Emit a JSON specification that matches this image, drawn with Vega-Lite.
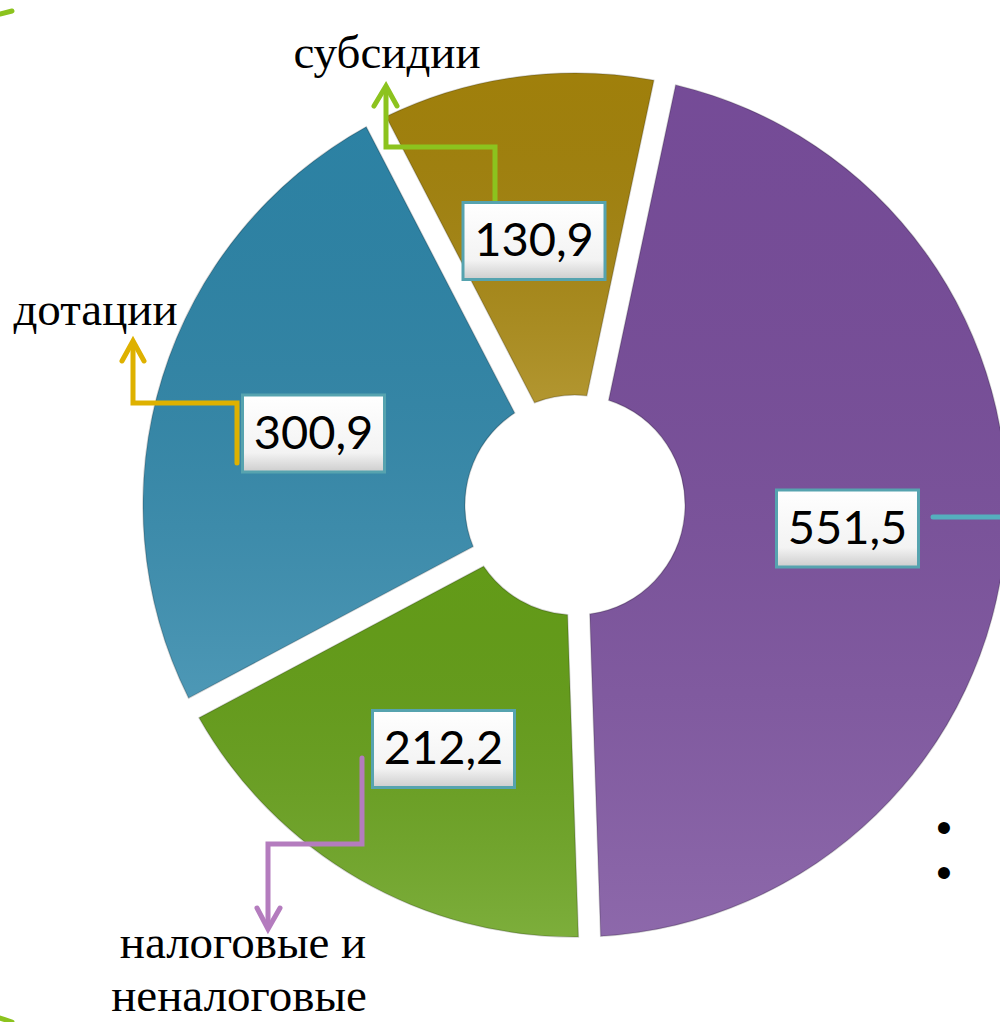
{
  "$schema": "https://vega.github.io/schema/vega-lite/v6.json",
  "width": 1000,
  "height": 1022,
  "autosize": "none",
  "padding": 0,
  "background": "white",
  "config": {"view": {"stroke": null}},
  "datasets": {
    "slices": [
      {"cat": "прочие", "value": 551.5, "k": 1},
      {"cat": "налоговые и неналоговые", "value": 212.2, "k": 2},
      {"cat": "дотации", "value": 300.9, "k": 3},
      {"cat": "субсидии", "value": 130.9, "k": 4}
    ],
    "lines": [
      {"g": "a", "i": 1, "x": -0.80, "y": 3.02, "c": "lime"},
      {"g": "a", "i": 2, "x": -0.80, "y": 3.58, "c": "lime"},
      {"g": "a", "i": 3, "x": -1.89, "y": 3.58, "c": "lime"},
      {"g": "a", "i": 4, "x": -1.89, "y": 4.16, "c": "lime"},
      {"g": "a2", "i": 1, "x": -2.01, "y": 3.99, "c": "lime"},
      {"g": "a2", "i": 2, "x": -1.89, "y": 4.19, "c": "lime"},
      {"g": "a2", "i": 3, "x": -1.78, "y": 3.99, "c": "lime"},
      {"g": "b", "i": 1, "x": -3.38, "y": 0.42, "c": "gold"},
      {"g": "b", "i": 2, "x": -3.38, "y": 1.02, "c": "gold"},
      {"g": "b", "i": 3, "x": -4.42, "y": 1.02, "c": "gold"},
      {"g": "b", "i": 4, "x": -4.42, "y": 1.62, "c": "gold"},
      {"g": "b2", "i": 1, "x": -4.53, "y": 1.44, "c": "gold"},
      {"g": "b2", "i": 2, "x": -4.42, "y": 1.64, "c": "gold"},
      {"g": "b2", "i": 3, "x": -4.31, "y": 1.44, "c": "gold"},
      {"g": "c", "i": 1, "x": -2.13, "y": -2.53, "c": "lilac"},
      {"g": "c", "i": 2, "x": -2.13, "y": -3.39, "c": "lilac"},
      {"g": "c", "i": 3, "x": -3.07, "y": -3.39, "c": "lilac"},
      {"g": "c", "i": 4, "x": -3.07, "y": -4.21, "c": "lilac"},
      {"g": "c2", "i": 1, "x": -3.18, "y": -4.03, "c": "lilac"},
      {"g": "c2", "i": 2, "x": -3.07, "y": -4.24, "c": "lilac"},
      {"g": "c2", "i": 3, "x": -2.95, "y": -4.03, "c": "lilac"},
      {"g": "d", "i": 1, "x": 3.58, "y": -0.12, "c": "teal"},
      {"g": "d", "i": 2, "x": 4.40, "y": -0.12, "c": "teal"},
      {"g": "e", "i": 1, "x": -5.75, "y": 4.91, "c": "lime"},
      {"g": "e", "i": 2, "x": -5.63, "y": 4.94, "c": "lime"},
      {"g": "f", "i": 1, "x": -5.75, "y": -5.13, "c": "lime"},
      {"g": "f", "i": 2, "x": -5.63, "y": -5.17, "c": "lime"}
    ],
    "values": [
      {"t": "130,9", "x": -0.41, "y": 2.64},
      {"t": "300,9", "x": -2.615, "y": 0.715},
      {"t": "551,5", "x": 2.725, "y": -0.235},
      {"t": "212,2", "x": -1.315, "y": -2.44}
    ],
    "cats": [
      {"t": "субсидии", "x": -1.88, "y": 4.37},
      {"t": "дотации", "x": -4.795, "y": 1.80},
      {"t": "налоговые и", "x": -3.32, "y": -4.53},
      {"t": "неналоговые", "x": -3.36, "y": -5.06}
    ],
    "bullets": [
      {"t": "•", "x": 3.69, "y": -3.25},
      {"t": "•", "x": 3.69, "y": -3.70}
    ]
  },
  "layer": [
    {
      "data": {"name": "slices"},
      "mark": {"type": "arc", "innerRadius": 110, "outerRadius": 432, "padAngle": 0.05},
      "encoding": {
        "theta": {"field": "value", "type": "quantitative", "stack": true, "scale": {"range": [0.2094, 6.4926]}},
        "order": {"field": "k", "type": "quantitative"},
        "color": {"field": "cat", "type": "nominal", "legend": null,
          "scale": {"domain": ["прочие", "налоговые и неналоговые", "дотации", "субсидии"], "range": ["#794E9C", "#66A019", "#2E86A9", "#A5840C"]}},
        "x": {"datum": 0, "type": "quantitative", "scale": {"domain": [-5.75, 4.25], "nice": false, "zero": false}, "axis": null},
        "y": {"datum": 0, "type": "quantitative", "scale": {"domain": [-5.17, 5.05], "nice": false, "zero": false}, "axis": null}
      }
    },
    {
      "data": {"name": "slices"},
      "mark": {"type": "arc", "innerRadius": 110, "outerRadius": 432, "padAngle": 0.05,
        "stroke": "rgba(0,0,0,0.18)", "strokeWidth": 1.5,
        "fill": {"gradient": "linear", "x1": 0, "y1": 0, "x2": 0, "y2": 1,
          "stops": [{"offset": 0, "color": "rgba(0,0,0,0.03)"}, {"offset": 1, "color": "rgba(255,255,255,0.15)"}]}},
      "encoding": {
        "theta": {"field": "value", "type": "quantitative", "stack": true, "scale": {"range": [0.2094, 6.4926]}},
        "order": {"field": "k", "type": "quantitative"},
        "x": {"datum": 0, "type": "quantitative", "scale": {"domain": [-5.75, 4.25], "nice": false, "zero": false}, "axis": null},
        "y": {"datum": 0, "type": "quantitative", "scale": {"domain": [-5.17, 5.05], "nice": false, "zero": false}, "axis": null}
      }
    },
    {
      "data": {"name": "lines"},
      "mark": {"type": "line", "strokeWidth": 5, "strokeCap": "round", "strokeJoin": "miter"},
      "encoding": {
        "x": {"field": "x", "type": "quantitative", "scale": {"domain": [-5.75, 4.25], "nice": false, "zero": false}, "axis": null},
        "y": {"field": "y", "type": "quantitative", "scale": {"domain": [-5.17, 5.05], "nice": false, "zero": false}, "axis": null},
        "detail": {"field": "g", "type": "nominal"},
        "order": {"field": "i", "type": "quantitative"},
        "color": {"field": "c", "type": "nominal", "legend": null,
          "scale": {"domain": ["lime", "gold", "lilac", "teal"], "range": ["#8CC31E", "#DEB100", "#B47CBE", "#55AFBE"]}}
      }
    },
    {
      "data": {"name": "values"},
      "mark": {"type": "point", "shape": "M-1,-0.542L1,-0.542L1,0.542L-1,0.542Z", "size": 20164, "filled": true, "opacity": 1,
        "fill": {"gradient": "linear", "x1": 0, "y1": 0, "x2": 0, "y2": 1,
          "stops": [{"offset": 0, "color": "#ffffff"}, {"offset": 0.75, "color": "#f3f3f3"}, {"offset": 1, "color": "#cdcdcd"}]},
        "stroke": "#56A3AF", "strokeWidth": 3},
      "encoding": {
        "x": {"field": "x", "type": "quantitative", "scale": {"domain": [-5.75, 4.25], "nice": false, "zero": false}, "axis": null},
        "y": {"field": "y", "type": "quantitative", "scale": {"domain": [-5.17, 5.05], "nice": false, "zero": false}, "axis": null}
      }
    },
    {
      "data": {"name": "values"},
      "mark": {"type": "text", "font": "Lato", "fontSize": 47, "align": "center", "baseline": "middle", "dy": 1, "color": "#000000"},
      "encoding": {
        "x": {"field": "x", "type": "quantitative", "scale": {"domain": [-5.75, 4.25], "nice": false, "zero": false}, "axis": null},
        "y": {"field": "y", "type": "quantitative", "scale": {"domain": [-5.17, 5.05], "nice": false, "zero": false}, "axis": null},
        "text": {"field": "t", "type": "nominal"}
      }
    },
    {
      "data": {"name": "cats"},
      "mark": {"type": "text", "font": "Liberation Serif", "fontSize": 47, "align": "center", "baseline": "alphabetic", "color": "#000000"},
      "encoding": {
        "x": {"field": "x", "type": "quantitative", "scale": {"domain": [-5.75, 4.25], "nice": false, "zero": false}, "axis": null},
        "y": {"field": "y", "type": "quantitative", "scale": {"domain": [-5.17, 5.05], "nice": false, "zero": false}, "axis": null},
        "text": {"field": "t", "type": "nominal"}
      }
    },
    {
      "data": {"name": "bullets"},
      "mark": {"type": "text", "font": "Liberation Sans", "fontSize": 44, "align": "center", "baseline": "middle", "color": "#000000"},
      "encoding": {
        "x": {"field": "x", "type": "quantitative", "scale": {"domain": [-5.75, 4.25], "nice": false, "zero": false}, "axis": null},
        "y": {"field": "y", "type": "quantitative", "scale": {"domain": [-5.17, 5.05], "nice": false, "zero": false}, "axis": null},
        "text": {"field": "t", "type": "nominal"}
      }
    }
  ],
  "resolve": {"scale": {"color": "independent"}}
}
